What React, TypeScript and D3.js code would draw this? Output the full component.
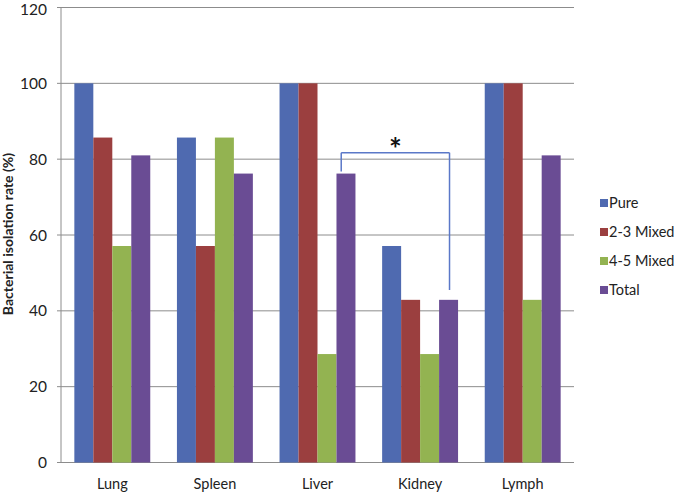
import React from "react";
import * as d3 from "d3";

const categories = ["Lung", "Spleen", "Liver", "Kidney", "Lymph"];
const seriesNames = ["Pure", "2-3 Mixed", "4-5 Mixed", "Total"];
const pure = [100, 85.7, 100, 57.1, 100];
const mixed23 = [85.7, 57.1, 100, 42.9, 100];
const mixed45 = [57.1, 85.7, 28.6, 28.6, 42.9];
const total = [81.0, 76.2, 76.2, 42.9, 81.0];
const yTicks = [0, 20, 40, 60, 80, 100, 120];
const colors = ["#4F6AB0", "#9B3F3F", "#93B351", "#6A4C94"];

export default function App() {
  const W = 680, H = 495;
  const left = 61, right = 574, top = 7.5, bottom = 462.5;
  const series = [pure, mixed23, mixed45, total];
  const x = d3.scaleBand().domain(categories).range([left, right]).paddingInner(0.26).paddingOuter(0.13);
  const x1 = d3.scaleBand().domain(seriesNames).range([0, x.bandwidth()]);
  const y = d3.scaleLinear().domain([0, 120]).range([bottom, top]);
  const font = "Lato, 'Open Sans', sans-serif";

  // significance bracket between Liver Total and Kidney Total
  const bx1 = (x("Liver") as number) + (x1("Total") as number) + x1.bandwidth() * 0.25;
  const bx2 = (x("Kidney") as number) + (x1("Total") as number) + x1.bandwidth() * 0.55;
  const by = y(81.7);

  return (
    <svg width={W} height={H} style={{ position: "absolute", left: 0, top: 0, background: "#fff" }}>
      <rect x={0} y={0} width={W} height={H} fill="#fff" />
      {yTicks.map((t) => (
        <g key={t}>
          <line x1={left - 4} x2={right} y1={y(t)} y2={y(t)} stroke="#8c8c8c" strokeWidth={1} />
          <text x={47} y={Math.max(y(t), 9)} dy="0.36em" textAnchor="end" fontSize={15.5} fontFamily={font} fill="#222">{t}</text>
        </g>
      ))}
      <line x1={left} x2={left} y1={top} y2={bottom} stroke="#8c8c8c" strokeWidth={1} />
      {categories.map((c, i) => (
        <g key={c}>
          {series.map((s, j) => (
            <rect key={j} x={(x(c) as number) + (x1(seriesNames[j]) as number)} y={y(s[i])}
              width={x1.bandwidth()} height={bottom - y(s[i])} fill={colors[j]} />
          ))}
          <text x={(x(c) as number) + x.bandwidth() / 2} y={489} textAnchor="middle" fontSize={14.5} fontFamily={font} fill="#222">{c}</text>
        </g>
      ))}
      <line x1={bx1} x2={bx1} y1={by} y2={y(76.2) - 2} stroke="#5B78C8" strokeWidth={1.5} />
      <line x1={bx2} x2={bx2} y1={by} y2={y(45.5)} stroke="#5B78C8" strokeWidth={1.5} />
      <line x1={bx1} x2={bx2} y1={by} y2={by} stroke="#5B78C8" strokeWidth={1.5} />
      <text x={(bx1 + bx2) / 2} y={by + 7} textAnchor="middle" fontSize={30} fontWeight="bold" fontFamily={font} fill="#111">*</text>
      <text transform={`translate(13,234) rotate(-90)`} textAnchor="middle" fontSize={14} fontWeight="bold" fontFamily={font} fill="#222">Bacterial isolation rate (%)</text>
      {seriesNames.map((n, j) => (
        <g key={n} transform={`translate(600,${203 + j * 29})`}>
          <rect x={0} y={-4} width={8} height={8} fill={colors[j]} />
          <text x={9} y={0} dy="0.36em" fontSize={14.5} fontFamily={font} fill="#222">{n}</text>
        </g>
      ))}
    </svg>
  );
}
